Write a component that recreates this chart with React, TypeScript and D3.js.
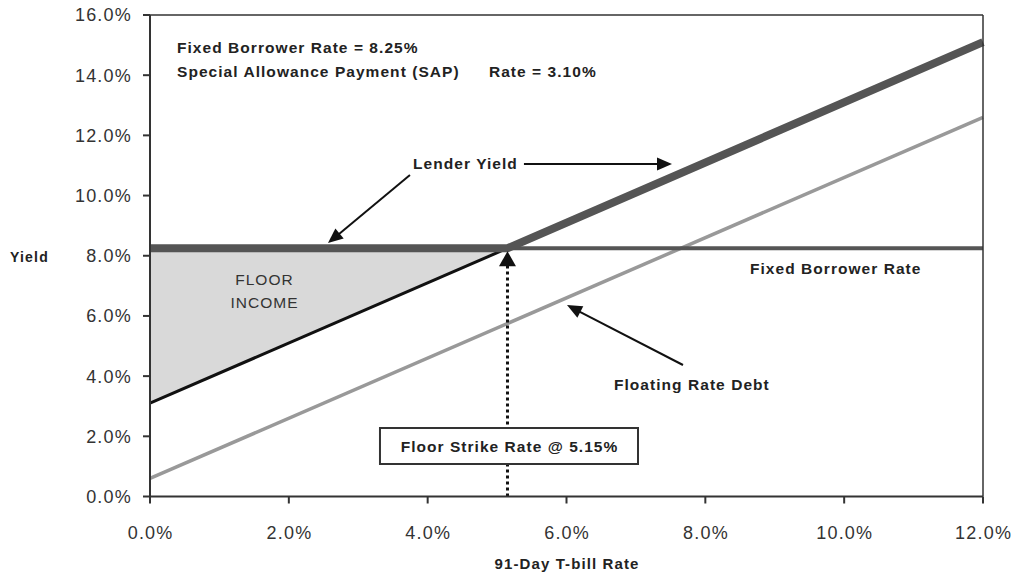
import React from 'react';
import * as d3 from 'd3';

// ---- data ----
const xTicks = [0, 2, 4, 6, 8, 10, 12];
const yTicks = [0, 2, 4, 6, 8, 10, 12, 14, 16];
const fixedBorrowerRate = [{ x: 0, y: 8.25 }, { x: 12, y: 8.25 }];
const lenderYield = [{ x: 0, y: 8.25 }, { x: 5.15, y: 8.25 }, { x: 12, y: 15.1 }];
const floorLine = [{ x: 0, y: 3.1 }, { x: 5.15, y: 8.25 }];
const floatingRateDebt = [{ x: 0, y: 0.6 }, { x: 12, y: 12.6 }];
const floorIncome = [{ x: 0, lo: 3.1, hi: 8.25 }, { x: 5.15, lo: 8.25, hi: 8.25 }];
const strikeRate = 5.15;
const strikeArrowTip = 8.15;

// annotation arrows in data units [from, to]
const arrows = [
  { from: [3.745, 10.68], to: [2.564, 8.42] },
  { from: [5.387, 11.05], to: [7.52, 11.05] },
  { from: [7.678, 4.37], to: [6.007, 6.36] },
];
const boldLabels = [
  { text: 'Fixed Borrower Rate = 8.25%', x: 0.389, y: 14.74 },
  { text: 'Special Allowance Payment (SAP)', x: 0.389, y: 13.94 },
  { text: 'Rate = 3.10%', x: 4.883, y: 13.94 },
  { text: 'Lender Yield', x: 3.79, y: 10.89 },
  { text: 'Fixed Borrower Rate', x: 8.643, y: 7.39 },
  { text: 'Floating Rate Debt', x: 6.684, y: 3.54 },
];
const floorIncomeLabel = [{ text: 'FLOOR', y: 7.03 }, { text: 'INCOME', y: 6.26 }];
const floorIncomeX = 1.642;
const strikeBox = { x0: 3.313, x1: 7.03, y0: 2.276, y1: 1.08, textY: 1.48, text: 'Floor Strike Rate @ 5.15%' };

const W = 1018, H = 579;
const left = 150, right = 983, top = 15, bottom = 496.5;
const FONT = '"Liberation Sans", Arial, Helvetica, sans-serif';

export default function App() {
  const x = d3.scaleLinear().domain([0, 12]).range([left, right]);
  const y = d3.scaleLinear().domain([0, 16]).range([bottom, top]);
  const line = d3.line<{ x: number; y: number }>().x(d => x(d.x)).y(d => y(d.y));
  const area = d3.area<{ x: number; lo: number; hi: number }>()
    .x(d => x(d.x)).y0(d => y(d.lo)).y1(d => y(d.hi));

  const arrowShape = (x1: number, y1: number, x2: number, y2: number, len: number, wid: number) => {
    const dx = x2 - x1, dy = y2 - y1;
    const L = Math.hypot(dx, dy);
    const ux = dx / L, uy = dy / L;
    const bx = x2 - ux * len, by = y2 - uy * len;
    const px = -uy * wid / 2, py = ux * wid / 2;
    return {
      line: { x1, y1, x2: bx + ux * 1, y2: by + uy * 1 },
      head: `${x2},${y2} ${bx + px},${by + py} ${bx - px},${by - py}`,
    };
  };

  const sx = x(strikeRate);
  const strikeArrow = arrowShape(sx, y(0), sx, y(strikeArrowTip), 15, 17);

  return (
    <svg width={W} height={H} style={{ position: 'absolute', left: 0, top: 0, background: '#fff' }}
      fontFamily={FONT}>
      <rect x={0} y={0} width={W} height={H} fill="#fff" />
      {/* floor income area */}
      <path d={area(floorIncome) || ''} fill="#d9d9d9" />
      {/* floating rate debt */}
      <path d={line(floatingRateDebt) || ''} stroke="#999" strokeWidth={3.5} fill="none" />
      {/* floor line (black) */}
      <path d={line(floorLine) || ''} stroke="#111" strokeWidth={3} fill="none" />
      {/* fixed borrower rate */}
      <path d={line(fixedBorrowerRate) || ''} stroke="#555" strokeWidth={4} fill="none" />
      {/* lender yield */}
      <path d={line(lenderYield) || ''} stroke="#555" strokeWidth={8} fill="none" strokeLinejoin="miter" />
      {/* dotted strike line */}
      <line x1={strikeArrow.line.x1} y1={strikeArrow.line.y1} x2={strikeArrow.line.x2} y2={strikeArrow.line.y2}
        stroke="#111" strokeWidth={3} strokeDasharray="3,3" />
      <polygon points={strikeArrow.head} fill="#111" />

      {/* frame */}
      <line x1={left} y1={top} x2={right} y2={top} stroke="#333" strokeWidth={1.5} />
      <line x1={right} y1={top} x2={right} y2={bottom} stroke="#333" strokeWidth={1.5} />
      {/* axes */}
      <line x1={left} y1={top} x2={left} y2={bottom} stroke="#333" strokeWidth={2} />
      <line x1={left} y1={bottom} x2={right} y2={bottom} stroke="#333" strokeWidth={2} />
      {yTicks.map(t => (
        <g key={'y' + t}>
          <line x1={left - 7} x2={left} y1={y(t)} y2={y(t)} stroke="#333" strokeWidth={2} />
          <text x={left - 18} y={y(t)} dy="0.36em" textAnchor="end" fontSize={18} fill="#333" letterSpacing={1.2}>
            {t.toFixed(1)}%
          </text>
        </g>
      ))}
      {xTicks.map(t => (
        <g key={'x' + t}>
          <line x1={x(t)} x2={x(t)} y1={bottom} y2={bottom + 7} stroke="#333" strokeWidth={2} />
          <text x={x(t) + 0.6} y={bottom + 42} textAnchor="middle" fontSize={18} fill="#333" letterSpacing={1.2}>
            {t.toFixed(1)}%
          </text>
        </g>
      ))}
      <text x={10} y={262} fontSize={14} fontWeight="bold" fill="#222" letterSpacing={1.2}>Yield</text>
      <text x={(left + right) / 2 + 0.5} y={569} textAnchor="middle" fontSize={15} fontWeight="bold" fill="#222"
        letterSpacing={1.1}>
        91-Day T-bill Rate
      </text>

      {/* annotations */}
      {boldLabels.map(l => (
        <text key={l.text} x={x(l.x)} y={y(l.y)} fontSize={15.5} fontWeight="bold" fill="#222" letterSpacing={1.05}>
          {l.text}
        </text>
      ))}
      {floorIncomeLabel.map(l => (
        <text key={l.text} x={x(floorIncomeX) + 0.5} y={y(l.y)} textAnchor="middle" fontSize={15.5} fill="#333"
          letterSpacing={1}>{l.text}</text>
      ))}
      {arrows.map((a, i) => {
        const s = arrowShape(x(a.from[0]), y(a.from[1]), x(a.to[0]), y(a.to[1]), 15, 13);
        return (
          <g key={i}>
            <line x1={s.line.x1} y1={s.line.y1} x2={s.line.x2} y2={s.line.y2} stroke="#111" strokeWidth={2} />
            <polygon points={s.head} fill="#111" />
          </g>
        );
      })}
      <rect x={x(strikeBox.x0)} y={y(strikeBox.y0)} width={x(strikeBox.x1) - x(strikeBox.x0)}
        height={y(strikeBox.y1) - y(strikeBox.y0)} fill="#fff" stroke="#333" strokeWidth={2} />
      <text x={(x(strikeBox.x0) + x(strikeBox.x1)) / 2 + 0.5} y={y(strikeBox.textY)} textAnchor="middle"
        fontSize={15.5} fontWeight="bold" fill="#222" letterSpacing={1.04}>{strikeBox.text}</text>
    </svg>
  );
}
